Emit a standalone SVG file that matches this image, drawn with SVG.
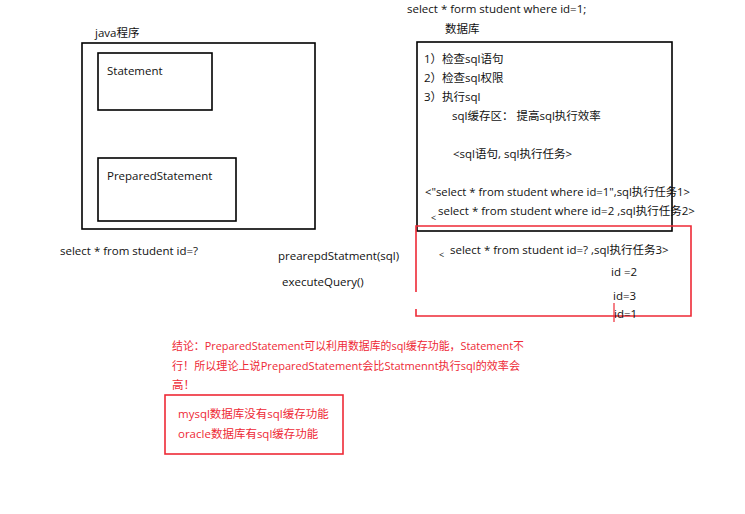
<svg xmlns="http://www.w3.org/2000/svg" width="745" height="514" viewBox="0 0 745 514">
<style>
text{font-family:"Open Sans","Noto Sans CJK SC",sans-serif;font-size:11.5px;fill:#111}
.r{fill:#ee2a36}
.box{fill:none;stroke:#000;stroke-width:1.6}
.rbox{fill:none;stroke:#ee2a36;stroke-width:1.6}
</style>
<rect width="745" height="514" fill="#fff"/>
<g id="java">
<text x="95" y="37">java程序</text>
<rect class="box" x="82" y="43" width="233" height="186"/>
</g>
<g id="statement">
<rect class="box" x="98" y="53" width="114" height="57"/>
<text x="107" y="75">Statement</text>
</g>
<g id="prepared">
<rect class="box" x="98" y="158" width="138" height="63"/>
<text x="107" y="180">PreparedStatement</text>
</g>
<g id="labels-left">
<text x="60" y="255">select * from student id=?</text>
<text x="278" y="260">prearepdStatment(sql)</text>
<text x="282" y="286">executeQuery()</text>
</g>
<g id="db">
<text x="407" y="13">select * form student where id=1;</text>
<text x="445" y="33">数据库</text>
<rect class="box" x="417" y="42" width="255" height="189"/>
<text x="424" y="63">1）检查sql语句</text>
<text x="424" y="82">2）检查sql权限</text>
<text x="424" y="101">3）执行sql</text>
<text x="452" y="120">sql缓存区： 提高sql执行效率</text>
<text x="453" y="158">&lt;sql语句, sql执行任务&gt;</text>
<text x="425" y="196" textLength="265" lengthAdjust="spacingAndGlyphs">&lt;"select * from student where id=1",sql执行任务1&gt;</text>
<text x="431" y="221" style="font-size:9px">&lt;</text>
<text x="438" y="215">select * from student where id=2 ,sql执行任务2&gt;</text>
</g>
<g id="cache">
<path class="rbox" d="M416 292 V226 H691 V316 H416 V309"/>
<text x="439" y="258" style="font-size:9px">&lt;</text>
<text x="450" y="254">select * from student id=? ,sql执行任务3&gt;</text>
<text x="611" y="276">id =2</text>
<text x="613" y="300">id=3</text>
<text x="614" y="318">id=1</text>
<line x1="614" y1="303" x2="614" y2="322" stroke="#ee2a36" stroke-width="1.2"/>
</g>
<g id="conclusion">
<text class="r" x="172" y="350" textLength="352" lengthAdjust="spacingAndGlyphs">结论：PreparedStatement可以利用数据库的sql缓存功能，Statement不</text>
<text class="r" x="172" y="370" textLength="348" lengthAdjust="spacingAndGlyphs">行！所以理论上说PreparedStatement会比Statmennt执行sql的效率会</text>
<text class="r" x="172" y="389">高！</text>
</g>
<g id="note">
<rect class="rbox" x="165" y="395" width="178" height="59"/>
<text class="r" x="178" y="418">mysql数据库没有sql缓存功能</text>
<text class="r" x="178" y="438">oracle数据库有sql缓存功能</text>
</g>
<g id="connectors"></g>
</svg>
